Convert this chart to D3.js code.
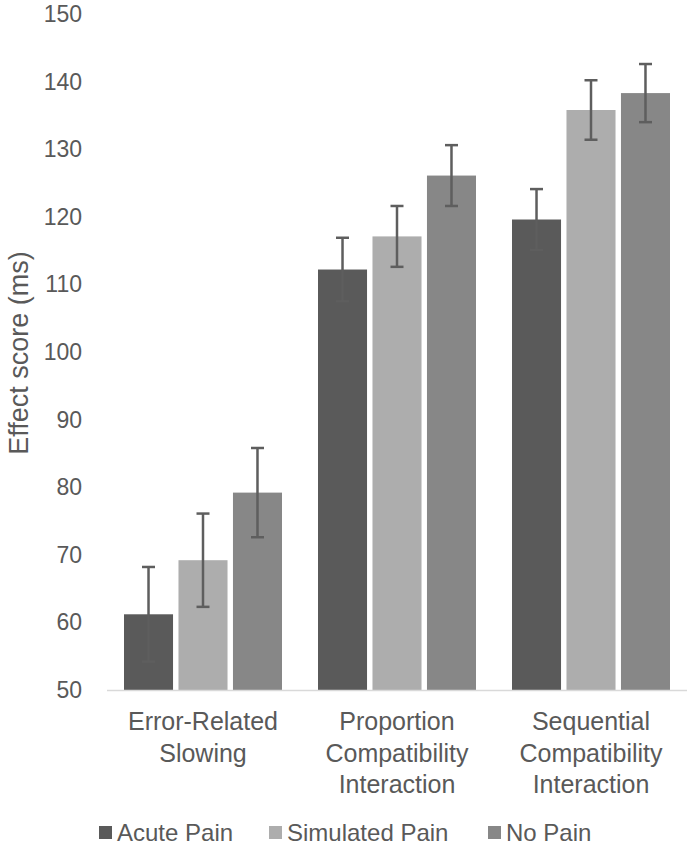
<!DOCTYPE html>
<html>
<head>
<meta charset="utf-8">
<script src="https://cdn.jsdelivr.net/npm/d3@7"></script>
<style>
  html, body { margin: 0; padding: 0; background: #fff; }
  svg { display: block; font-family: "Liberation Sans", Arial, sans-serif; }
</style>
</head>
<body>
<div id="chart"></div>
<script>
// Data
const categories = [
    ["Error-Related", "Slowing"],
    ["Proportion", "Compatibility", "Interaction"],
    ["Sequential", "Compatibility", "Interaction"]
];
const seriesNames = ["Acute Pain", "Simulated Pain", "No Pain"];
const seriesColors = ["#5a5a5a", "#adadad", "#878787"];

const acuteValues = [61.2, 112.2, 119.6];
const acuteErrors = [7.0, 4.7, 4.5];
const simulatedValues = [69.2, 117.1, 135.8];
const simulatedErrors = [6.9, 4.5, 4.4];
const noPainValues = [79.2, 126.1, 138.3];
const noPainErrors = [6.6, 4.5, 4.3];

const yTicks = [50, 60, 70, 80, 90, 100, 110, 120, 130, 140, 150];

const width = 693;
const height = 849;

const values = [acuteValues, simulatedValues, noPainValues];
const errors = [acuteErrors, simulatedErrors, noPainErrors];

const svg = d3.select('#chart')
    .append('svg')
    .attr('width', width)
    .attr('height', height);

const catKeys = categories.map((c, i) => i);

const x0 = d3.scaleBand()
    .domain(catKeys)
    .range([106, 688])
    .padding(0);

const x1 = d3.scaleBand()
    .domain(seriesNames)
    .range([18, x0.bandwidth() - 18])
    .paddingInner(0.1)
    .paddingOuter(0);

const y = d3.scaleLinear()
    .domain([50, 150])
    .range([690, 14]);

// y tick labels (no axis line, no gridlines)
svg.append('g')
    .selectAll('text')
    .data(yTicks)
    .join('text')
    .attr('x', 82)
    .attr('y', d => y(d))
    .attr('dy', 8)
    .attr('text-anchor', 'end')
    .attr('font-size', 23)
    .attr('fill', '#595959')
    .text(d => d);

// y title
svg.append('text')
    .attr('transform', 'translate(28,353) rotate(-90)')
    .attr('text-anchor', 'middle')
    .attr('font-size', 27)
    .attr('fill', '#595959')
    .text('Effect score (ms)');

// bars
const rows = [];
catKeys.forEach(ci => {
    seriesNames.forEach((s, si) => {
        rows.push({ ci, si, s, v: values[si][ci], e: errors[si][ci] });
    });
});

const g = svg.append('g');

g.selectAll('rect')
    .data(rows)
    .join('rect')
    .attr('x', d => x0(d.ci) + x1(d.s))
    .attr('y', d => y(d.v))
    .attr('width', x1.bandwidth())
    .attr('height', d => y(50) - y(d.v))
    .attr('fill', d => seriesColors[d.si]);

// x baseline
svg.append('line')
    .attr('x1', 107)
    .attr('x2', 687)
    .attr('y1', y(50) + 0.5)
    .attr('y2', y(50) + 0.5)
    .attr('stroke', '#d9d9d9')
    .attr('stroke-width', 1.5);

// error bars
const err = svg.append('g')
    .attr('stroke', '#5e5e5e')
    .attr('stroke-width', 2.5);

const cx = d => x0(d.ci) + x1(d.s) + x1.bandwidth() / 2;
const capW = 6.5;

err.selectAll('line.stem')
    .data(rows)
    .join('line')
    .attr('class', 'stem')
    .attr('x1', cx)
    .attr('x2', cx)
    .attr('y1', d => y(d.v + d.e))
    .attr('y2', d => y(d.v - d.e));

err.selectAll('line.capTop')
    .data(rows)
    .join('line')
    .attr('class', 'capTop')
    .attr('x1', d => cx(d) - capW)
    .attr('x2', d => cx(d) + capW)
    .attr('y1', d => y(d.v + d.e))
    .attr('y2', d => y(d.v + d.e));

err.selectAll('line.capBottom')
    .data(rows)
    .join('line')
    .attr('class', 'capBottom')
    .attr('x1', d => cx(d) - capW)
    .attr('x2', d => cx(d) + capW)
    .attr('y1', d => y(d.v - d.e))
    .attr('y2', d => y(d.v - d.e));

// category labels
const catLabel = svg.append('g')
    .selectAll('text')
    .data(catKeys)
    .join('text')
    .attr('x', d => x0(d) + x0.bandwidth() / 2)
    .attr('y', 730)
    .attr('text-anchor', 'middle')
    .attr('font-size', 25)
    .attr('fill', '#595959');

catLabel.selectAll('tspan')
    .data(d => categories[d])
    .join('tspan')
    .attr('x', function() { return d3.select(this.parentNode).attr('x'); })
    .attr('dy', (d, i) => i === 0 ? 0 : 31.5)
    .text(d => d);

// legend
const legendX = [99, 269, 488];
const legend = svg.append('g')
    .selectAll('g')
    .data(seriesNames)
    .join('g')
    .attr('transform', (d, i) => `translate(${legendX[i]},0)`);

legend.append('rect')
    .attr('x', 0)
    .attr('y', 826)
    .attr('width', 13)
    .attr('height', 13)
    .attr('fill', (d, i) => seriesColors[i]);

legend.append('text')
    .attr('x', 18)
    .attr('y', 841)
    .attr('font-size', 24)
    .attr('fill', '#595959')
    .text(d => d);
</script>
</body>
</html>
